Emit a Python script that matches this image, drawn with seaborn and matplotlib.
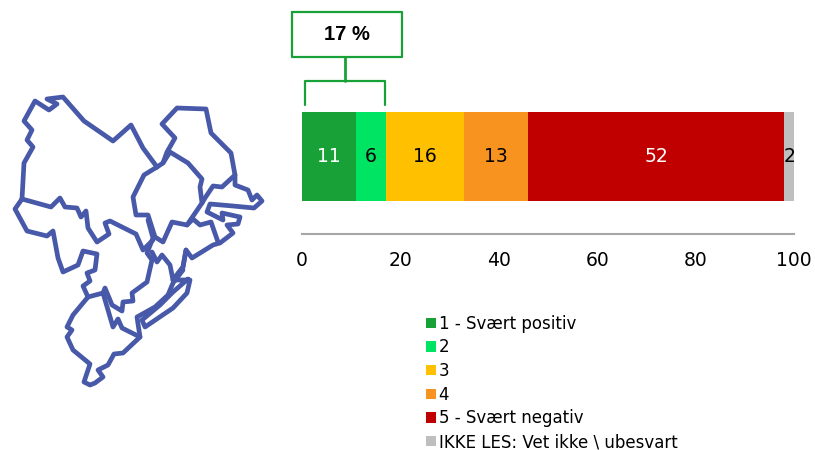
import numpy as np
import pandas as pd
import matplotlib
matplotlib.use('Agg')
import matplotlib.pyplot as plt
from matplotlib.patches import Patch
import seaborn as sns

sns.set_style("white")
plt.rcParams['font.family'] = ['DejaVu Sans']

# data
categories = ['1 - Svært positiv', '2', '3', '4', '5 - Svært negativ', 'IKKE LES: Vet ikke \\ ubesvart']
values = [11, 6, 16, 13, 52, 2]
colors = ['#17A136', '#00E463', '#FFC000', '#F7931E', '#C00000', '#BFBFBF']
label_colors = ['white', 'black', 'black', 'black', 'white', 'black']
x_ticks = [0, 20, 40, 60, 80, 100]
callout_text = '17 %'

# kartomriss, pikselkoordinater fra bildet
map_lines = [
    [(22, 199), (24, 163), (33, 147), (27, 140), (32, 130), (24, 121), (35, 101), (49, 110), (57, 104), (47, 99),
     (63, 97), (84, 121), (113, 141), (131, 125), (143, 148), (157, 167)],
    [(22, 199), (51, 207), (60, 198), (65, 207), (77, 208), (81, 217), (86, 211), (88, 228), (97, 242), (109, 234),
     (105, 223), (110, 221), (136, 234), (143, 250), (153, 240)],
    [(163, 163), (167, 152), (175, 138), (162, 124), (177, 108), (206, 109), (211, 133), (231, 153), (235, 175),
     (235, 185), (248, 190), (252, 200), (257, 195), (262, 201), (254, 208), (233, 206), (210, 204), (207, 212),
     (223, 220), (222, 213), (240, 217), (238, 224), (227, 225), (233, 233), (220, 243), (213, 245), (192, 258),
     (186, 250), (183, 267), (173, 280)],
    [(157, 167), (144, 175), (133, 197), (136, 215), (148, 215), (155, 237), (163, 242), (172, 222), (187, 225),
     (202, 203), (200, 187), (202, 179), (188, 163), (170, 152), (163, 163), (157, 167)],
    [(202, 203), (205, 198), (213, 186), (222, 187), (235, 175)],
    [(187, 225), (193, 219), (200, 225), (211, 222), (218, 242)],
    [(22, 199), (15, 209), (27, 231), (47, 236), (53, 231), (58, 258), (63, 272), (78, 265), (83, 251), (97, 254),
     (95, 270), (87, 273), (90, 281), (83, 286), (88, 297)],
    [(88, 297), (73, 315), (67, 327), (72, 330), (67, 337), (73, 350), (90, 364), (84, 382), (90, 385), (95, 383),
     (103, 377), (98, 370), (108, 365), (114, 354), (123, 353), (140, 337), (122, 328), (118, 319), (113, 327),
     (103, 293), (88, 297)],
    [(103, 293), (105, 288), (110, 300), (112, 305), (122, 311), (123, 302), (133, 301), (132, 293), (147, 282),
     (152, 260), (147, 253), (153, 238), (148, 220)],
    [(152, 252), (157, 262), (162, 255), (170, 265), (173, 280), (183, 267), (186, 250)],
    [(173, 280), (190, 280), (187, 293), (173, 308), (145, 327), (142, 320), (160, 305), (173, 292), (188, 279)],
    [(140, 337), (137, 317), (155, 307), (168, 295), (173, 283), (183, 270)],
]

# klamme og boks over søylen
box_x = [292, 402, 402, 292, 292]
box_y = [12, 12, 57, 57, 12]
stem_x = [345, 345]
stem_y = [57, 81]
bracket_x = [305, 305, 385, 385]
bracket_y = [105, 81, 81, 105]


def px_axes(fig, left, top, right, bottom):
    """Akser plassert med pikselkoordinater (fra øverst til venstre)"""
    w, h = 815.0, 450.0
    return fig.add_axes([left / w, 1 - bottom / h, (right - left) / w, (bottom - top) / h])


fig = plt.figure(figsize=(8.15, 4.5), dpi=100)
ax = px_axes(fig, 302, 79, 794, 234)

# stablet søyle: kumulative verdier tegnes fra størst til minst
cumulative = np.cumsum(values)
for i in range(len(values) - 1, -1, -1):
    df = pd.DataFrame({'val': [cumulative[i]], 'row': ['']})
    sns.barplot(data=df, x='val', y='row', color=colors[i], saturation=1, width=0.574, ax=ax, linewidth=0)

starts = cumulative - np.array(values)
for s, v, c in zip(starts, values, label_colors):
    ax.text(s + v / 2, 0, str(v), ha='center', va='center', color=c, fontsize=13.5, clip_on=False)

ax.set_xlim(0, 100)
ax.set_ylim(0.5, -0.5)
ax.set_xticks(x_ticks)
ax.tick_params(axis='x', length=0, labelsize=13.5, pad=12, colors='black')
ax.tick_params(axis='y', length=0, labelleft=False)
ax.set_xlabel('')
ax.set_ylabel('')
sns.despine(ax=ax, left=True)
ax.spines['bottom'].set_color('#A6A6A6')
ax.spines['bottom'].set_linewidth(1.5)

# overlegg for kart og klamme
over = fig.add_axes([0, 0, 1, 1], zorder=5)
over.set_xlim(0, 815)
over.set_ylim(450, 0)
over.axis('off')
for line in map_lines:
    xs, ys = zip(*line)
    over.plot(xs, ys, color='#4759A8', linewidth=3.4, solid_joinstyle='round', solid_capstyle='round')

over.plot(box_x, box_y, color='#17A136', linewidth=1.6)
over.plot(stem_x, stem_y, color='#17A136', linewidth=2)
over.plot(bracket_x, bracket_y, color='#17A136', linewidth=1.6)
over.text(347, 35, callout_text, ha='center', va='center', fontsize=14.5, fontweight='bold',
          family='Liberation Sans', color='black')

handles = [Patch(facecolor=c, edgecolor='none') for c in colors]
leg = fig.legend(handles, categories, loc='upper left', bbox_to_anchor=(424 / 815, 1 - 313 / 450), frameon=False,
                 fontsize=12, handlelength=0.6, handleheight=0.6, handletextpad=0.18, labelspacing=0.34,
                 borderpad=0.1, borderaxespad=0, labelcolor='black')

plt.savefig('out.png', dpi=100)
plt.close()
